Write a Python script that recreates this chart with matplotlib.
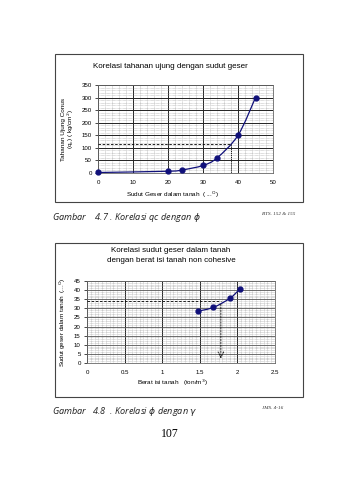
import numpy as np
import matplotlib
matplotlib.use("Agg")
import matplotlib.pyplot as plt
from matplotlib.path import Path
from matplotlib.patches import PathPatch, Rectangle

# ---- data ----
c1_x = [0, 20, 24, 30, 34, 40, 45]
c1_y = [2, 7, 12, 30, 60, 150, 300]
c1_ref = (38, 117)
c1_xticks = [0, 10, 20, 30, 40, 50]
c1_yticks = [0, 50, 100, 150, 200, 250, 300, 350]

c2_x = [1.48, 1.68, 1.9, 2.03]
c2_y = [28.5, 30.5, 35.5, 40.5]
c2_ref = (1.78, 33.8)
c2_xticks = [0, 0.5, 1, 1.5, 2, 2.5]
c2_xticklabels = ["0", "0.5", "1", "1.5", "2", "2.5"]
c2_yticks = [0, 5, 10, 15, 20, 25, 30, 35, 40, 45]

W, H = 338, 480
fig = plt.figure(figsize=(W/100, H/100), dpi=100)
plt.rcParams['font.family'] = ['Liberation Sans', 'DejaVu Sans']
navy = '#10107a'

def fx(px): return px / W
def fy(py): return 1 - py / H

def smooth_path(ax, xs, ys, **kw):
    pts = np.column_stack([xs, ys]).astype(float)
    n = len(pts)
    verts = [pts[0]]
    codes = [Path.MOVETO]
    for i in range(n - 1):
        p0 = pts[i - 1] if i > 0 else pts[i]
        p1 = pts[i]
        p2 = pts[i + 1]
        p3 = pts[i + 2] if i + 2 < n else pts[i + 1]
        c1 = p1 + (p2 - p0) / 6.0
        c2 = p2 - (p3 - p1) / 6.0
        verts += [c1, c2, p2]
        codes += [Path.CURVE4] * 3
    ax.add_patch(PathPatch(Path(verts, codes), facecolor='none', **kw))

def box(x0, y0, x1, y1):
    r = Rectangle((fx(x0), fy(y1)), fx(x1) - fx(x0), fy(y0) - fy(y1),
                  transform=fig.transFigure, fill=False, lw=0.8, ec='#444444')
    fig.add_artist(r)

def style(ax, xmin, xmax, ymin, ymax, xminor, yminor):
    ax.set_xlim(xmin, xmax)
    ax.set_ylim(ymin, ymax)
    ax.set_facecolor('white')
    ax.set_xticks(np.arange(xmin, xmax + 1e-9, xminor), minor=True)
    ax.set_yticks(np.arange(ymin, ymax + 1e-9, yminor), minor=True)
    ax.grid(True, which='minor', color='#9a9a9a', lw=0.4, ls=(0, (1, 1.2)))
    ax.grid(True, which='major', color='#222222', lw=0.7)
    ax.set_axisbelow(True)
    for s in ax.spines.values():
        s.set_color('#666666'); s.set_linewidth(0.6)
    ax.tick_params(which='both', length=0, labelsize=4.4, pad=5)
    ax.tick_params(which='major', axis='y', length=2.5, width=0.5, pad=2)

# ---- chart 1 ----
box(55, 54, 303, 202)
ax1 = fig.add_axes([fx(98), fy(173), fx(273) - fx(98), fy(85) - fy(173)])
style(ax1, 0, 50, 0, 350, 2, 10)
ax1.set_xticks(c1_xticks)
ax1.set_yticks(c1_yticks)
smooth_path(ax1, c1_x, c1_y, edgecolor=navy, lw=0.9, zorder=3)
ax1.plot(c1_x, c1_y, 'o', color=navy, ms=3.5, zorder=4, clip_on=False)
ax1.plot([0, c1_ref[0]], [c1_ref[1], c1_ref[1]], color='black', lw=0.6, ls=(0, (3, 2)), zorder=3)
ax1.plot([c1_ref[0], c1_ref[0]], [c1_ref[1], 0], color='black', lw=0.6, ls=(0, (1.5, 1)), zorder=3)
fig.text(fx(170), fy(67), "Korelasi tahanan ujung dengan sudut geser", ha='center', va='center', fontsize=5.8)
fig.text(fx(172), fy(195), "Sudut Geser dalam tanah  ( ...$^{\\mathrm{O}}$)", ha='center', va='center', fontsize=4.6)
fig.text(fx(63), fy(129), "Tahanan Ujung Conus", rotation=90, ha='center', va='center', fontsize=4.6)
fig.text(fx(71), fy(129), "(q$_\\mathrm{c}$) ( kg/cm$^2$)", rotation=90, ha='center', va='center', fontsize=4.6)

fig.text(fx(52), fy(217), "Gambar    4.7 . Korelasi qc dengan $\\phi$", ha='left', va='center',
         fontsize=6.6, style='italic', family=['Open Sans', 'DejaVu Sans'], color='#222222')
fig.text(fx(262), fy(214), "BTS. 152 & 155", ha='left', va='center', fontsize=3.7,
         style='italic', family=['Liberation Serif'], color='#333333')

# ---- chart 2 ----
box(55, 243, 303, 397)
ax2 = fig.add_axes([fx(87), fy(363), fx(275) - fx(87), fy(281) - fy(363)])
style(ax2, 0, 2.5, 0, 45, 0.05, 1)
ax2.set_xticks(c2_xticks)
ax2.set_xticklabels(c2_xticklabels)
ax2.set_yticks(c2_yticks)
ax2.grid(True, which='major', axis='y', color='#555555', lw=0.6)
smooth_path(ax2, c2_x, c2_y, edgecolor=navy, lw=0.9, zorder=3)
ax2.plot(c2_x, c2_y, 'o', color=navy, ms=3.5, zorder=4)
ax2.plot([0, c2_ref[0]], [c2_ref[1], c2_ref[1]], color='black', lw=0.6, ls=(0, (3, 2)), zorder=3)
ax2.annotate("", xy=(c2_ref[0], 1), xytext=(c2_ref[0], c2_ref[1]),
             arrowprops=dict(arrowstyle='->', lw=0.6, ls=(0, (2, 1.5)), color='black'), zorder=3)
fig.text(fx(171), fy(251), "Korelasi sudut geser dalam tanah", ha='center', va='center', fontsize=5.8)
fig.text(fx(171), fy(261), "dengan berat isi tanah non cohesive", ha='center', va='center', fontsize=5.8)
fig.text(fx(172), fy(383), "Berat isi tanah   (ton/m$^3$)", ha='center', va='center', fontsize=4.6)
fig.text(fx(63), fy(322), "Sudut geser dalam tanah  (...$^{\\mathrm{O}}$)", rotation=90, ha='center', va='center', fontsize=4.6)

fig.text(fx(52), fy(411), "Gambar   4.8  . Korelasi $\\phi$ dengan $\\gamma$", ha='left', va='center',
         fontsize=6.6, style='italic', family=['Open Sans', 'DejaVu Sans'], color='#222222')
fig.text(fx(262), fy(408), "JMS. 4-16", ha='left', va='center', fontsize=3.7,
         style='italic', family=['Liberation Serif'], color='#333333')

fig.text(fx(170), fy(434), "107", ha='center', va='center', fontsize=8.5, family=['Liberation Serif'])

fig.savefig("out.png", dpi=100, facecolor='white')
